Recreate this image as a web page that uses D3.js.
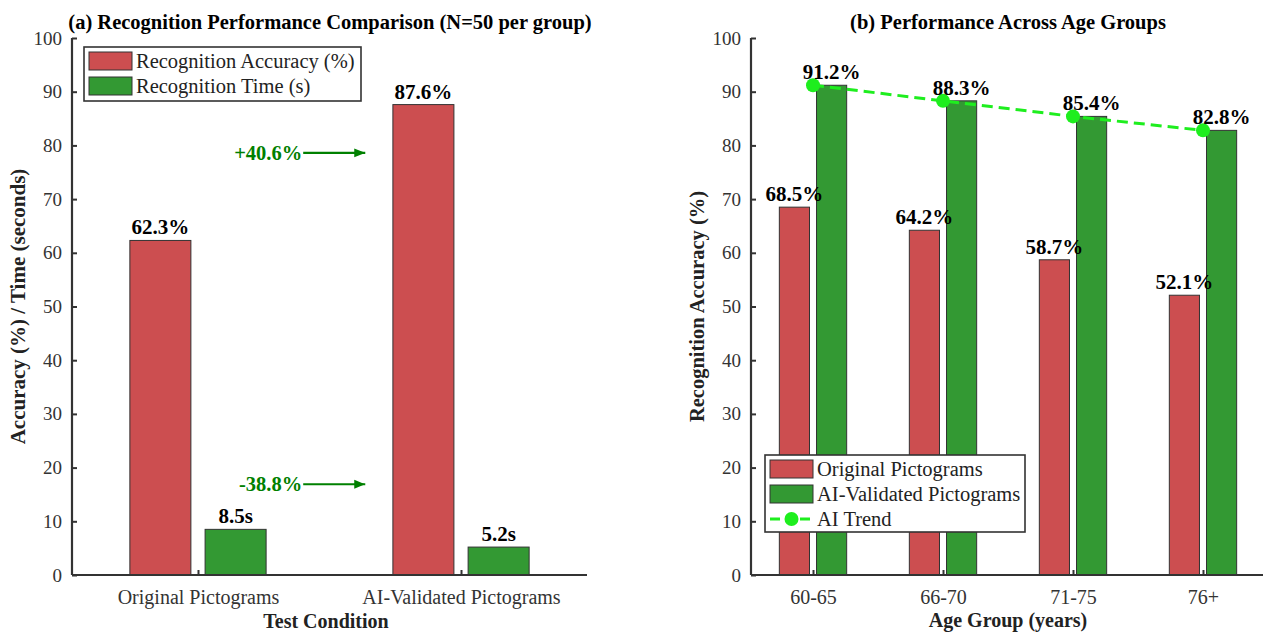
<!DOCTYPE html>
<html>
<head>
<meta charset="utf-8">
<script src="https://cdn.jsdelivr.net/npm/d3@7"></script>
<style>
  html, body { margin: 0; padding: 0; background: #fff; }
  svg { display: block; font-family: "Liberation Serif", "Times New Roman", serif; }
</style>
</head>
<body>
<svg id="chart" width="1263" height="634"></svg>
<script>
// ---- Panel (a): overall comparison ----
const conditions = ["Original Pictograms", "AI-Validated Pictograms"];
const accuracy = [62.3, 87.6];      // %
const recogTime = [8.5, 5.2];       // seconds
const changeLabels = ["+40.6%", "-38.8%"];
const changeLevels = [78.6, 16.9];  // y value where each change arrow sits

// ---- Panel (b): age groups ----
const ageGroups = ["60-65", "66-70", "71-75", "76+"];
const originalByAge = [68.5, 64.2, 58.7, 52.1];
const aiByAge = [91.2, 88.3, 85.4, 82.8];

const yTicks = [0, 10, 20, 30, 40, 50, 60, 70, 80, 90, 100];

const RED = "#cc4e50";
const GREEN = "#339933";
const EDGE = "#333333";
const TREND = "#1eee1e";
const AXIS = "#333333";

const svg = d3.select("#chart");

const BAR_W = 0.232;   // bar width in category units
const BAR_OFF = 0.143; // offset of each bar from the category centre

function drawAxes(g, x, y, n, labels) {
  // y axis
  const yAxis = d3.axisLeft(y).tickValues(yTicks).tickSize(-5).tickPadding(10);
  const ya = g.append("g").attr("transform", `translate(${x.range()[0]},0)`).call(yAxis);
  ya.select(".domain").attr("stroke", AXIS).attr("stroke-width", 2.2)
    .attr("d", `M0,${y.range()[0]}V${y.range()[1]}`);
  ya.selectAll(".tick line").attr("stroke", AXIS).attr("stroke-width", 2);
  ya.selectAll(".tick text").attr("fill", "#333").style("font-size", "19px")
    .style("font-family", "Liberation Serif");
  // x axis
  const xAxis = d3.axisBottom(x).tickValues(d3.range(n)).tickFormat(i => labels[i])
    .tickSize(-5).tickPadding(15);
  const xa = g.append("g").attr("transform", `translate(0,${y.range()[0]})`).call(xAxis);
  xa.select(".domain").attr("stroke", AXIS).attr("stroke-width", 2.2)
    .attr("d", `M${x.range()[0]},0H${x.range()[1]}`);
  xa.selectAll(".tick line").attr("stroke", AXIS).attr("stroke-width", 2);
  xa.selectAll(".tick text").attr("fill", "#333").style("font-size", "20px")
    .style("font-family", "Liberation Serif");
}

function bars(g, x, y, values, offset, color) {
  g.append("g").selectAll("rect").data(values).join("rect")
    .attr("x", (d, i) => x(i + offset - BAR_W / 2))
    .attr("width", x(BAR_W) - x(0))
    .attr("y", d => y(d))
    .attr("height", d => y(0) - y(d))
    .attr("fill", color)
    .attr("stroke", EDGE)
    .attr("stroke-width", 1);
}

function valueLabels(g, x, y, values, offset, fmt) {
  g.append("g").selectAll("text").data(values).join("text")
    .attr("x", (d, i) => x(i + offset))
    .attr("y", d => y(d) - 6)
    .attr("text-anchor", "middle")
    .style("font-size", "21px").style("font-weight", "bold")
    .attr("fill", "#000")
    .text(fmt);
}

function legend(g, x0, y0, w, h, items) {
  const lg = g.append("g");
  lg.append("rect").attr("x", x0).attr("y", y0).attr("width", w).attr("height", h)
    .attr("fill", "#fff").attr("stroke", "#333").attr("stroke-width", 1.6);
  items.forEach((it, i) => {
    const cy = y0 + 14 + i * 25;
    if (it.type === "bar") {
      lg.append("rect").attr("x", x0 + 5).attr("y", cy - 9).attr("width", 43).attr("height", 18)
        .attr("fill", it.color).attr("stroke", EDGE).attr("stroke-width", 1);
    } else {
      lg.append("line").attr("x1", x0 + 5).attr("x2", x0 + 48).attr("y1", cy).attr("y2", cy)
        .attr("stroke", it.color).attr("stroke-width", 3).attr("stroke-dasharray", "10,5");
      lg.append("circle").attr("cx", x0 + 26.5).attr("cy", cy).attr("r", 7).attr("fill", it.color);
    }
    lg.append("text").attr("x", x0 + 52).attr("y", cy + 6.5)
      .style("font-size", "20.5px").attr("fill", "#222").text(it.label);
  });
}

// ===================== Panel (a) =====================
{
  const g = svg.append("g");
  const x = d3.scaleLinear().domain([-0.479, 1.479]).range([72, 587]);
  const y = d3.scaleLinear().domain([0, 100]).range([575, 38]);

  bars(g, x, y, accuracy, -BAR_OFF, RED);
  bars(g, x, y, recogTime, BAR_OFF, GREEN);
  drawAxes(g, x, y, conditions.length, conditions);
  valueLabels(g, x, y, accuracy, -BAR_OFF, d => d.toFixed(1) + "%");
  valueLabels(g, x, y, recogTime, BAR_OFF, d => d.toFixed(1) + "s");

  // change annotations with arrows
  const defs = svg.append("defs");
  defs.append("marker").attr("id", "arrowHead").attr("viewBox", "0 0 10 10")
    .attr("refX", 10).attr("refY", 5).attr("markerWidth", 5).attr("markerHeight", 5)
    .attr("orient", "auto")
    .append("path").attr("d", "M0,1 L10,5 L0,9 z").attr("fill", "#008000");
  changeLabels.forEach((lab, i) => {
    const yy = y(changeLevels[i]);
    g.append("text").attr("x", x(0.4) - 1).attr("y", yy + 7).attr("text-anchor", "end")
      .style("font-size", "20.5px").style("font-weight", "bold").attr("fill", "#008000").text(lab);
    g.append("line").attr("x1", x(0.4)).attr("x2", x(0.636)).attr("y1", yy).attr("y2", yy)
      .attr("stroke", "#008000").attr("stroke-width", 2.2).attr("marker-end", "url(#arrowHead)");
  });

  legend(g, 84, 47, 277, 54, [
    { type: "bar", color: RED, label: "Recognition Accuracy (%)" },
    { type: "bar", color: GREEN, label: "Recognition Time (s)" }
  ]);

  g.append("text").attr("x", 330).attr("y", 29).attr("text-anchor", "middle")
    .style("font-size", "20.5px").style("font-weight", "bold").text("(a) Recognition Performance Comparison (N=50 per group)");
  g.append("text").attr("x", 326).attr("y", 628).attr("text-anchor", "middle")
    .style("font-size", "20px").style("font-weight", "bold").attr("fill", "#222").text("Test Condition");
  g.append("text").attr("transform", `translate(25,${(575 + 38) / 2}) rotate(-90)`)
    .attr("text-anchor", "middle").style("font-size", "21px").style("font-weight", "bold").attr("fill", "#222")
    .text("Accuracy (%) / Time (seconds)");
}

// ===================== Panel (b) =====================
{
  const g = svg.append("g");
  const x = d3.scaleLinear().domain([-0.477, 3.477]).range([751, 1265]);
  const y = d3.scaleLinear().domain([0, 100]).range([575, 38]);

  bars(g, x, y, originalByAge, -BAR_OFF, RED);
  bars(g, x, y, aiByAge, BAR_OFF, GREEN);
  drawAxes(g, x, y, ageGroups.length, ageGroups);

  // AI trend line through the group centres
  const line = d3.line().x((d, i) => x(i)).y(d => y(d));
  g.append("path").datum(aiByAge).attr("d", line).attr("fill", "none")
    .attr("stroke", TREND).attr("stroke-width", 3).attr("stroke-dasharray", "11,6");
  g.append("g").selectAll("circle").data(aiByAge).join("circle")
    .attr("cx", (d, i) => x(i)).attr("cy", d => y(d)).attr("r", 7).attr("fill", TREND);

  valueLabels(g, x, y, originalByAge, -BAR_OFF, d => d.toFixed(1) + "%");
  valueLabels(g, x, y, aiByAge, BAR_OFF, d => d.toFixed(1) + "%");

  legend(g, 765, 455, 260, 77, [
    { type: "bar", color: RED, label: "Original Pictograms" },
    { type: "bar", color: GREEN, label: "AI-Validated Pictograms" },
    { type: "line", color: TREND, label: "AI Trend" }
  ]);

  g.append("text").attr("x", 1008).attr("y", 29).attr("text-anchor", "middle")
    .style("font-size", "20.5px").style("font-weight", "bold").text("(b) Performance Across Age Groups");
  g.append("text").attr("x", 1008).attr("y", 627).attr("text-anchor", "middle")
    .style("font-size", "20px").style("font-weight", "bold").attr("fill", "#222").text("Age Group (years)");
  g.append("text").attr("transform", `translate(704,${(575 + 38) / 2}) rotate(-90)`)
    .attr("text-anchor", "middle").style("font-size", "20.5px").style("font-weight", "bold").attr("fill", "#222")
    .text("Recognition Accuracy (%)");
}
</script>
</body>
</html>
